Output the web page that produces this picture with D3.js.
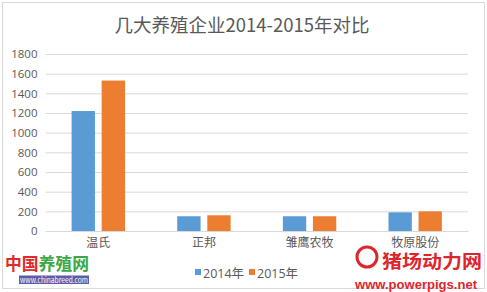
<!DOCTYPE html>
<html><head><meta charset="utf-8">
<script src="https://cdn.jsdelivr.net/npm/d3@7"></script>
<style>body{margin:0;background:#fff;}svg{display:block;font-family:"Noto Sans CJK SC","Open Sans",sans-serif;}</style>
</head><body>
<svg id="c" width="487" height="292"></svg>
<script>
const title = "几大养殖企业2014-2015年对比";
const categories = ["温氏","正邦","雏鹰农牧","牧原股份"];
const seriesNames = ["2014年","2015年"];
const values2014 = [1220,150,150,190];
const values2015 = [1530,160,150,200];
const yTicks = [0,200,400,600,800,1000,1200,1400,1600,1800];
const colors = ["#5b9bd5","#ed7d31"];

(function(){
const svg = d3.select("#c");
svg.append("rect").attr("x",2.5).attr("y",2.5).attr("width",482).attr("height",286)
  .attr("fill","#fff").attr("stroke","#d9d9d9");

svg.append("text").attr("x",242).attr("y",32).attr("text-anchor","middle")
  .attr("font-size",18.5).attr("fill","#595959").text(title);

const pl=45.5, pr=468, pt=54, pb=231;
const y = d3.scaleLinear().domain([0,1800]).range([pb,pt]);
const x0 = d3.scaleBand().domain(categories).range([pl,pr]).padding(0);
const x1 = d3.scaleBand().domain(seriesNames).range([-26.7,26.7]).paddingInner(0.223).paddingOuter(0);

const yAxis = d3.axisLeft(y).tickValues(yTicks).tickFormat(d3.format("d")).tickSize(-(pr-pl)).tickPadding(8);
const gy = svg.append("g").attr("transform",`translate(${pl},0)`).call(yAxis);
gy.select(".domain").remove();
gy.selectAll(".tick line").attr("stroke","#d9d9d9");
gy.selectAll(".tick text").attr("fill","#595959").attr("font-size",11.5).attr("font-family","'Open Sans',sans-serif");

const data = categories.map((c,i)=>({cat:c, vals:[values2014[i],values2015[i]]}));
const groups = svg.append("g").selectAll("g").data(data).join("g")
  .attr("transform",d=>`translate(${x0(d.cat)+x0.bandwidth()/2},0)`);
groups.selectAll("rect").data(d=>d.vals.map((v,j)=>({s:seriesNames[j],v,j}))).join("rect")
  .attr("x",d=>x1(d.s)).attr("width",x1.bandwidth())
  .attr("y",d=>y(d.v)).attr("height",d=>y(0)-y(d.v)).attr("fill",d=>colors[d.j]);

const xAxis = d3.axisBottom(x0).tickSize(0).tickPadding(7);
const gx = svg.append("g").attr("transform",`translate(0,${pb})`).call(xAxis);
gx.select(".domain").attr("stroke","#d9d9d9");
gx.selectAll(".tick text").attr("fill","#595959").attr("font-size",12).attr("font-family","'Noto Sans CJK SC',sans-serif");

// legend
const legX=[195,249];
seriesNames.forEach((s,i)=>{
  svg.append("rect").attr("x",legX[i]).attr("y",269).attr("width",6).attr("height",6).attr("fill",colors[i]);
  svg.append("text").attr("x",legX[i]+8).attr("y",277.5).attr("font-size",12.5).attr("fill","#595959")
    .attr("font-family","'Open Sans','Noto Sans CJK SC',sans-serif").text(s);
});

// watermarks
const wm1 = svg.append("text").attr("x",5).attr("y",269.5).attr("font-size",17).attr("font-weight","bold")
  .attr("textLength",84).attr("lengthAdjust","spacingAndGlyphs");
wm1.append("tspan").attr("fill","#e02a2a").text("中国");
wm1.append("tspan").attr("fill","#3aa845").text("养殖网");
svg.append("rect").attr("x",19).attr("y",275.5).attr("width",70).attr("height",8.5).attr("fill","#5a5ea8");
svg.append("text").attr("x",20).attr("y",282.5).attr("font-size",7.5).attr("fill","#fff")
  .attr("textLength",68).attr("lengthAdjust","spacingAndGlyphs").text("www.chinabreed.com");

svg.append("circle").attr("cx",367).attr("cy",257).attr("r",10).attr("fill","none").attr("stroke","#e0242b").attr("stroke-width",3);
svg.append("text").attr("x",382).attr("y",268).attr("font-size",18).attr("font-weight","bold").attr("fill","#e0242b")
  .attr("textLength",100).attr("lengthAdjust","spacingAndGlyphs").text("猪场动力网");
svg.append("text").attr("x",355).attr("y",288.5).attr("font-size",13.5).attr("font-weight","bold").attr("fill","#e0242b")
  .attr("textLength",122).attr("lengthAdjust","spacingAndGlyphs")
  .attr("font-family","'Liberation Sans',sans-serif").text("www.powerpigs.net");
})();
</script>
</body></html>
